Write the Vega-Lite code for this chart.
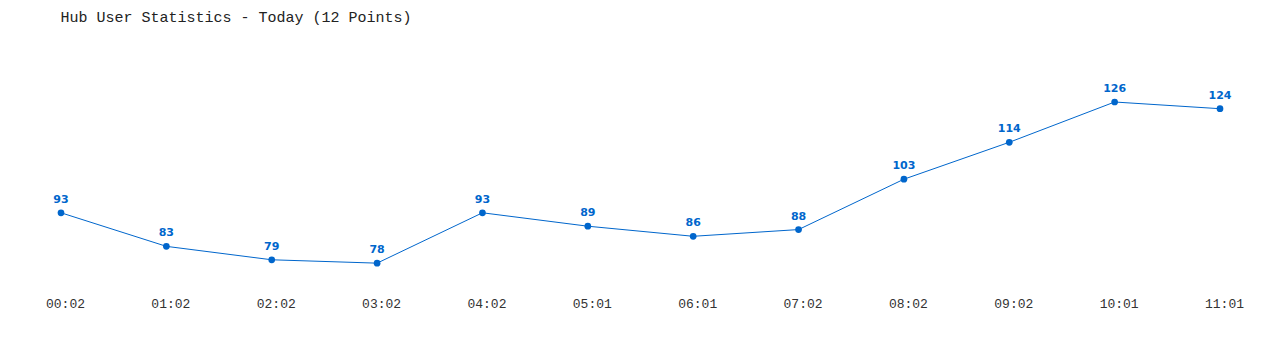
{
  "$schema": "https://vega.github.io/schema/vega-lite/v6.json",
  "autosize": {"type": "none"},
  "padding": {"left": 61, "top": 55, "right": 60, "bottom": 60},
  "width": 1159,
  "height": 235,
  "background": "white",
  "title": {
    "text": "Hub User Statistics - Today (12 Points)",
    "anchor": "start",
    "font": "Liberation Mono",
    "fontSize": 15,
    "fontWeight": "normal",
    "color": "#222222",
    "offset": 30,
    "dx": 15
  },
  "data": {
    "values": [
      {"time": "00:02", "users": 93},
      {"time": "01:02", "users": 83},
      {"time": "02:02", "users": 79},
      {"time": "03:02", "users": 78},
      {"time": "04:02", "users": 93},
      {"time": "05:01", "users": 89},
      {"time": "06:01", "users": 86},
      {"time": "07:02", "users": 88},
      {"time": "08:02", "users": 103},
      {"time": "09:02", "users": 114},
      {"time": "10:01", "users": 126},
      {"time": "11:01", "users": 124}
    ]
  },
  "encoding": {
    "x": {
      "field": "time",
      "type": "ordinal",
      "sort": null,
      "scale": {"type": "point", "padding": 0},
      "axis": {
        "title": null,
        "domain": false,
        "ticks": false,
        "grid": false,
        "labelAngle": 0,
        "labelFont": "Liberation Mono",
        "labelFontSize": 13,
        "labelColor": "#333333",
        "labelPadding": 7,
        "labelOffset": 4
      }
    },
    "y": {
      "field": "users",
      "type": "quantitative",
      "scale": {"domain": [70, 140], "zero": false, "nice": false},
      "axis": null
    }
  },
  "layer": [
    {"mark": {"type": "line", "color": "#0066cc", "strokeWidth": 1}},
    {"mark": {"type": "point", "filled": true, "color": "#0066cc", "size": 45, "opacity": 1}},
    {
      "mark": {"type": "text", "color": "#0066cc", "font": "DejaVu Sans", "fontWeight": "bold", "fontSize": 11, "dy": -13},
      "encoding": {"text": {"field": "users", "type": "quantitative"}}
    }
  ],
  "config": {"view": {"stroke": null}}
}
